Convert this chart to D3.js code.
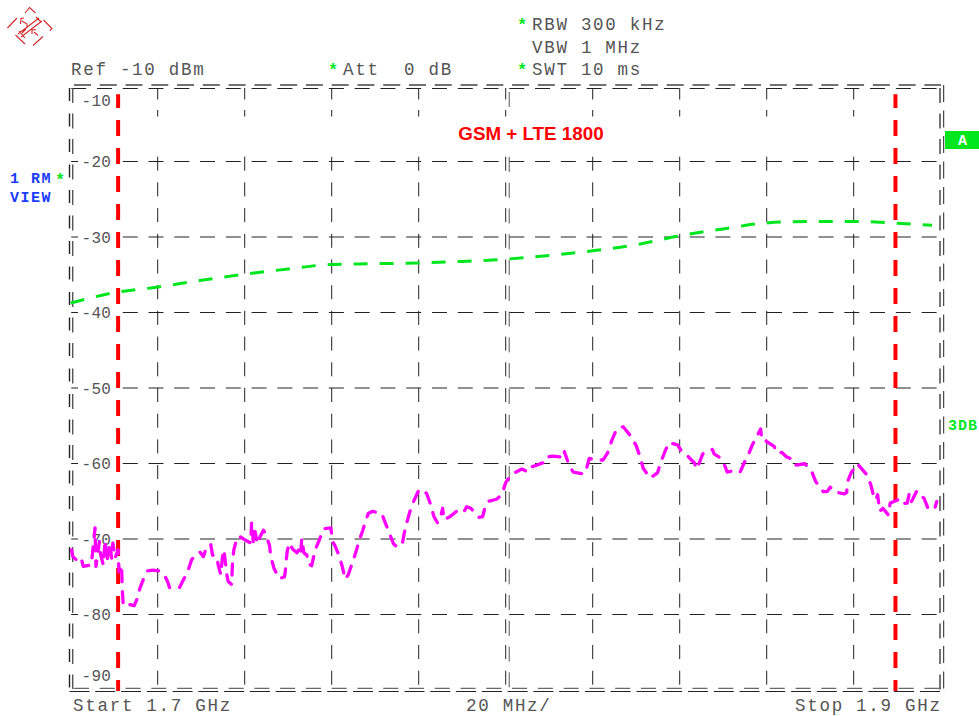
<!DOCTYPE html>
<html>
<head>
<meta charset="utf-8">
<script src="https://cdn.jsdelivr.net/npm/d3@7"></script>
<style>
  html, body { margin: 0; background: #fff; }
  svg { display: block; }
  text { font-family: "Liberation Mono", monospace; }
</style>
</head>
<body>
<div id="chart"></div>
<script>
const freqTicks = [1720, 1740, 1760, 1780, 1800, 1820, 1840, 1860, 1880];
const levelTicks = [-10, -20, -30, -40, -50, -60, -70, -80, -90];
const markerFreqs = [1710.9, 1889.6];

const refFreq = [1700, 1710.9, 1720, 1730, 1740, 1750, 1760, 1770, 1780, 1790, 1800, 1810, 1820, 1830, 1840, 1850, 1860, 1870, 1880, 1890, 1898];
const refLevel = [-38.8, -37.35, -36.7, -35.8, -35, -34.3, -33.7, -33.6, -33.5, -33.3, -33, -32.5, -31.9, -31.1, -29.9, -29, -28.2, -28, -28, -28.25, -28.5];

const traceFreq = [
  1700.2, 1700.5, 1702, 1702.5, 1702.9, 1704.8, 1704.9, 1705.6, 1705.8, 1706.6, 1706.9, 1707.5, 1707.9, 1708.3, 1709, 1709.4, 1709.7, 1710.2, 1710.9, 1711.1,
  1711.7, 1711.8, 1711.9, 1712.1, 1713.2, 1714.6, 1715.2, 1715.9, 1716.9, 1717.6, 1718.9, 1720.4, 1721.7, 1722.4, 1722.7, 1725, 1725.7, 1726.9, 1727.8, 1729,
  1729.7, 1730.5, 1731.3, 1732.2, 1732.6, 1733.6, 1733.9, 1734.5, 1734.9, 1735.2, 1735.5, 1735.9, 1736.2, 1737, 1737.2, 1737.5, 1738.3, 1738.8, 1740.1, 1741.4,
  1741.6, 1742, 1742.4, 1742.9, 1743.5, 1744.3, 1744.7, 1745.7, 1746, 1746.7, 1747.9, 1749.1, 1749.3, 1749.5, 1749.8, 1750.3, 1751, 1752, 1752.6, 1752.9,
  1753.1, 1753.6, 1754.3, 1754.5, 1755.4, 1756.2, 1757.2, 1758.2, 1759.8, 1760.2, 1760.8, 1761.8, 1762.5, 1763.1, 1763.8, 1765, 1765.6, 1766.3, 1767.1, 1767.9,
  1768.4, 1769.4, 1771.5, 1772.5, 1773.4, 1774.2, 1774.8, 1776.2, 1776.6, 1777.2, 1778, 1778.9, 1780.1, 1781.8, 1782.8, 1783.5, 1784.3, 1784.9, 1785.5, 1785.8,
  1787.2, 1788.7, 1790.3, 1791, 1792, 1793.9, 1794.7, 1795.2, 1795.9, 1797.9, 1799.1, 1800, 1801.4, 1803.7, 1805.2, 1806, 1807.1, 1809.3, 1809.6, 1810.8,
  1812.5, 1813.4, 1813.5, 1814.4, 1815.5, 1817.5, 1817.8, 1818.5, 1819.2, 1820.9, 1822.4, 1823.4, 1824.4, 1825.5, 1827, 1828.7, 1830, 1830.9, 1831.6, 1833.2,
  1834.9, 1835.6, 1836.6, 1837.5, 1839.5, 1840.5, 1841.5, 1843.4, 1843.9, 1844.5, 1845.3, 1847.5, 1847.9, 1849, 1850.4, 1850.9, 1852.5, 1853.9, 1854.8, 1855.8,
  1856.7, 1857.7, 1858.6, 1858.9, 1859.6, 1861.7, 1862.4, 1863.5, 1864.6, 1865.8, 1866.5, 1868.8, 1870.4, 1871.3, 1873, 1873.9, 1874.6, 1875.5, 1877.8, 1878.4,
  1878.5, 1879.4, 1880.8, 1882.8, 1883.9, 1884.5, 1885.1, 1885.5, 1886, 1886.7, 1888, 1888.4, 1890.5, 1891, 1892.3, 1892.8, 1893.3, 1894.5, 1896.2, 1897.2,
  1898.7, 1899.1
];
const traceLevel = [
  -71.5, -72.4, -73.2, -72.8, -73.7, -73.5, -72.6, -68.6, -73.7, -70.4, -72.2, -73.5, -70.2, -73.1, -70.6, -72.6, -70.6, -72.6, -71.5, -74.4,
  -73.5, -75.7, -77.2, -78.9, -78.7, -78.9, -78.1, -76.6, -75.1, -74.3, -74.2, -74.3, -75, -75.9, -76.5, -76.5, -75.7, -74.4, -72.8, -72,
  -71.8, -72.4, -71, -70.8, -72.2, -72.4, -73.5, -74.8, -72.4, -71.5, -72.8, -74.8, -75.7, -76.1, -73.1, -71.5, -69.8, -69.7, -70.2, -70.6,
  -67.8, -70.6, -69.1, -70.7, -69.8, -68.9, -69.3, -70.9, -72.4, -73.9, -75.3, -75.1, -74.6, -73.1, -71.6, -70.6, -71.4, -71.9, -71.3, -72,
  -70, -71.9, -72.2, -73.3, -73.6, -71.5, -70.1, -68.7, -68.6, -70.4, -71, -72.4, -73.9, -75.4, -74.8, -72.8, -71.7, -70.3, -69, -67.5,
  -66.7, -66.4, -66.7, -68.2, -69.5, -70.7, -71, -70.9, -69.5, -68, -66.4, -65, -63.5, -64, -65.6, -67.1, -67.9, -67.5, -66, -67.5,
  -67.1, -66.4, -66.6, -65.8, -66, -67.2, -67.1, -66, -65.1, -64.8, -64.2, -62.6, -61.5, -60.8, -61.2, -60.5, -60.3, -59.8, -59.2, -59.1,
  -59.2, -59.4, -58.5, -60, -61.2, -61.4, -61.5, -60.9, -59.4, -59.6, -59.6, -58.7, -57, -55.5, -55.2, -56.4, -57.7, -59.2, -60.7, -62,
  -61.3, -60, -58.5, -57.3, -57.6, -58.5, -58.9, -60, -60.8, -60, -58.8, -58.2, -58.8, -59.2, -60.4, -61.2, -61, -61.2, -60, -58.9,
  -57.6, -56.5, -55.5, -57, -57, -57.8, -58.7, -58.6, -59.2, -59.5, -60.3, -60.1, -61.2, -62.5, -63.8, -63.8, -63.2, -63.8, -64.1, -63.9,
  -62.6, -61.3, -60.1, -61.4, -62.8, -64.2, -64.9, -64.2, -66.4, -66, -66.9, -65.3, -64.8, -65.4, -65.3, -64, -65.1, -63.7, -64.7, -66.2,
  -65.9, -65.1
];

const width = 979, height = 716;
const left = 70.7, right = 940.7, top_ = 85.5, bottom = 689.5;

const gray = '#555', gridColor = '#222', green = '#00e61e', magenta = '#ff00ff', blue = '#1a3cff';

const svg = d3.select('#chart').append('svg').attr('width', width).attr('height', height);
const x = d3.scaleLinear().domain([1700, 1900]).range([left, right]);
const y = d3.scaleLinear().domain([-10, -90]).range([top_, bottom]);

// frame: the instrument draws it twice, slightly offset
const frame = svg.append('g').attr('fill', 'none');
const frameLine = (x1, y1, x2, y2, color, w, dash) => frame.append('line')
  .attr('x1', x1).attr('y1', y1).attr('x2', x2).attr('y2', y2)
  .attr('stroke', color).attr('stroke-width', w).attr('stroke-dasharray', dash);
frameLine(74, 85, 941, 85, '#444', 1.4, '17 8.77');
frameLine(71.2, 88.5, 940, 88.5, gridColor, 1, '15 10.77');
frameLine(69.5, 88, 69.5, 691, gridColor, 1.4, '13 12.5');
frameLine(72.7, 88, 72.7, 689, '#555', 1.4, '15 10.5');
frameLine(940, 88, 940, 690, '#555', 1.6, '15 10.5');
frameLine(943.7, 85, 943.7, 691, gridColor, 1, '17 8.5');
frameLine(69.5, 691.5, 940, 691.5, gridColor, 1.2, '20 5.77');
frameLine(74, 688.3, 940, 688.3, '#444', 1, '15 10.77');

// horizontal grid, one dash phase for the whole width
svg.append('g')
  .attr('transform', `translate(${left + 0.5},0)`)
  .call(d3.axisRight(y).tickValues(levelTicks.slice(1, -1)).tickSize(right - left - 1).tickFormat(''))
  .call(g => g.select('.domain').remove())
  .call(g => g.selectAll('line').attr('stroke', gridColor).attr('stroke-dasharray', '15 10.77'));

// vertical grid has a stub at the top and no ink behind the title band
const vGrid = svg.append('g');
vGrid.selectAll('line.stub').data(freqTicks).join('line')
  .attr('class', 'stub')
  .attr('x1', d => x(d)).attr('x2', d => x(d))
  .attr('y1', 88).attr('y2', 117)
  .attr('stroke', gridColor).attr('stroke-dasharray', '11.5 10.5 6.5 100');
vGrid.selectAll('line.long').data(freqTicks).join('line')
  .attr('class', 'long')
  .attr('x1', d => x(d)).attr('x2', d => x(d))
  .attr('y1', 156.7).attr('y2', 689)
  .attr('stroke', gridColor).attr('stroke-dasharray', '14 11.7');
vGrid.append('line')
  .attr('x1', 509.2).attr('x2', 509.2).attr('y1', 92).attr('y2', 117)
  .attr('stroke', '#555').attr('stroke-dasharray', '15 10.77');
vGrid.append('line')
  .attr('x1', 509.2).attr('x2', 509.2).attr('y1', 157).attr('y2', 689)
  .attr('stroke', '#555').attr('stroke-dasharray', '15 10.77');

// level labels sit on the grid lines, on a white patch
const yAxis = svg.append('g')
  .attr('transform', 'translate(111,0)')
  .call(d3.axisLeft(y).tickValues(levelTicks).tickSize(0).tickPadding(0).tickFormat(d => String(d)));
yAxis.select('.domain').remove();
yAxis.selectAll('.tick').each(function(d) {
  const dy = d === -10 ? 14 : d === -90 ? -14.5 : 0;
  const tick = d3.select(this);
  tick.insert('rect', 'text').attr('x', -33).attr('y', dy - 7).attr('width', 34).attr('height', 14).attr('fill', '#fff');
  tick.select('text')
    .attr('y', dy).attr('dy', '0.36em')
    .attr('fill', gray).attr('font-size', 16).attr('letter-spacing', 0.2)
    .style('font-family', '"Liberation Mono", monospace');
});

// display lines
svg.append('g').selectAll('line').data(markerFreqs).join('line')
  .attr('x1', d => x(d)).attr('x2', d => x(d))
  .attr('y1', 94.3).attr('y2', 691)
  .attr('stroke', '#ff0000').attr('stroke-width', 4)
  .attr('stroke-dasharray', '16 12').attr('stroke-dashoffset', 2.3);

const line = d3.line().x(d => x(d[0])).y(d => y(d[1]));

svg.append('path')
  .attr('d', line.curve(d3.curveMonotoneX)(d3.zip(refFreq, refLevel)))
  .attr('fill', 'none').attr('stroke', green).attr('stroke-width', 3)
  .attr('stroke-dasharray', '14 12');

svg.append('path')
  .attr('d', line.curve(d3.curveLinear)(d3.zip(traceFreq, traceLevel)))
  .attr('fill', 'none').attr('stroke', magenta).attr('stroke-width', 3.3)
  .attr('stroke-linejoin', 'round').attr('stroke-linecap', 'round')
  .attr('stroke-dasharray', '11 10');

// header and footer text
const label = (s, px, py, opts = {}) => svg.append('text')
  .attr('x', px).attr('y', py).text(s)
  .attr('fill', opts.fill || gray)
  .attr('font-size', opts.size || 17.5)
  .attr('font-weight', opts.weight || 'normal')
  .attr('letter-spacing', opts.spacing === undefined ? 1.72 : opts.spacing)
  .attr('xml:space', 'preserve')
  .style('white-space', 'pre');

label('Ref -10 dBm', 71, 75);
label('Att  0 dB', 343, 75);
label('RBW 300 kHz', 532, 30);
label('VBW 1 MHz', 532, 52.5);
label('SWT 10 ms', 532, 75);
label('Start 1.7 GHz', 73, 711);
label('20 MHz/', 466, 711);
label('Stop 1.9 GHz', 795, 711);

const star = (px, py) => label('*', px, py, { fill: green, weight: 'bold', size: 17, spacing: 0 });
star(328, 75);
star(517, 30);
star(517, 75);
star(55, 185);

label('1 RM', 10, 183, { fill: blue, weight: 'bold', size: 15, spacing: 1.5 });
label('VIEW', 10, 202, { fill: blue, weight: 'bold', size: 15, spacing: 1.5 });
label('3DB', 948, 430, { fill: green, weight: 'bold', size: 15, spacing: 1 });

svg.append('rect').attr('x', 945).attr('y', 131).attr('width', 34).attr('height', 18).attr('fill', green);
label('A', 958, 145, { fill: '#fff', weight: 'bold', size: 15, spacing: 0 });

svg.append('text').attr('x', 531).attr('y', 139.5).attr('text-anchor', 'middle')
  .text('GSM + LTE 1800').attr('fill', '#ff0000').attr('font-size', 18.8).attr('font-weight', 'bold')
  .style('font-family', '"Liberation Sans", Arial, sans-serif');

// logo
svg.append('path')
  .attr('d', 'M7.5 28L17 18M25 13L29.5 7.5L35.5 13M43.5 20L52 28.5L50 30.5M43 36.5L33 45.5M25 44L15.5 35'
    + 'M18 34L39 18M21 37L42 21M19 31L25 38M36 17L41 22M22 33L26 29'
    + 'M20.5 24L21 18.5L24 18M22 21L27 24L27 28M32 34L32 30L36 29.5M34 32L38 35.5')
  .attr('fill', 'none').attr('stroke', '#d32a2a').attr('stroke-width', 1.1);
</script>
</body>
</html>
